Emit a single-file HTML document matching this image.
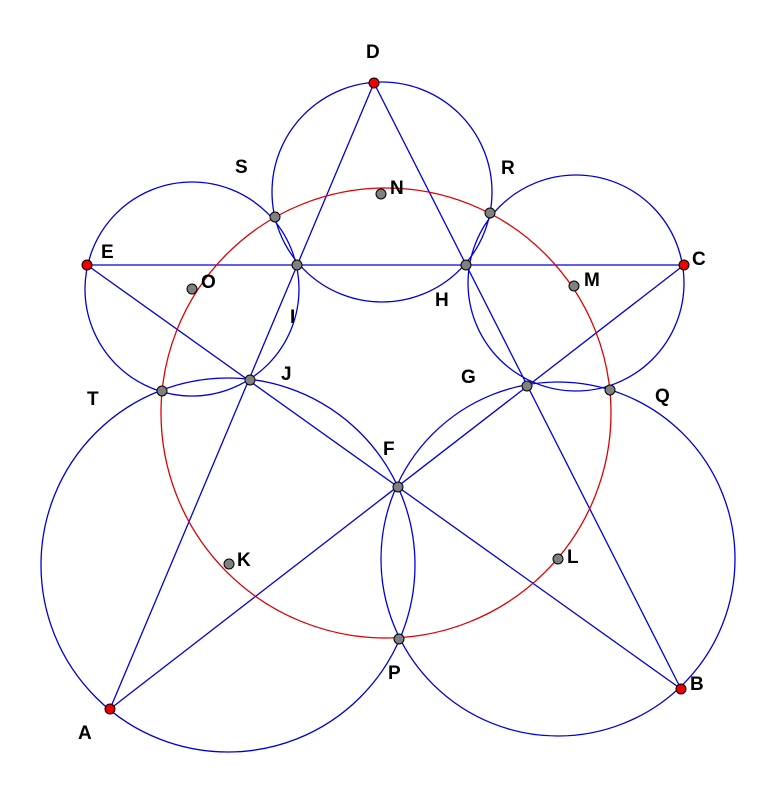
<!DOCTYPE html>
<html><head><meta charset="utf-8"><style>
html,body{margin:0;padding:0;background:#fff;}
svg text{font-family:"Liberation Sans",sans-serif;font-weight:bold;font-size:19px;fill:#000;}
</style></head><body>
<svg width="775" height="795" viewBox="0 0 775 795" xmlns="http://www.w3.org/2000/svg">
<g fill="none" stroke="#0000dd" stroke-width="1.3">
<circle cx="382" cy="192" r="110"/>
<circle cx="192" cy="289" r="107"/>
<circle cx="576" cy="283" r="108"/>
<circle cx="228" cy="565" r="187"/>
<circle cx="558" cy="559" r="177"/>
<line x1="110" y1="709" x2="374" y2="83"/>
<line x1="374" y1="83" x2="681" y2="689"/>
<line x1="681" y1="689" x2="87" y2="265"/>
<line x1="87" y1="265" x2="684" y2="265"/>
<line x1="684" y1="265" x2="110" y2="709"/>
</g>
<circle cx="386" cy="413" r="225" fill="none" stroke="#e00000" stroke-width="1.3"/>
<g stroke="#000" stroke-width="1">
<g fill="#ee0000">
<circle cx="374" cy="83" r="5"/><circle cx="87" cy="265" r="5"/><circle cx="684" cy="265" r="5"/><circle cx="110" cy="709" r="5"/><circle cx="681" cy="689" r="5"/>
</g>
<g fill="#808080">
<circle cx="297" cy="265" r="5"/><circle cx="466" cy="265" r="5"/><circle cx="250" cy="380" r="5"/><circle cx="527" cy="386" r="5"/><circle cx="398" cy="487" r="5"/>
<circle cx="275" cy="217" r="5"/><circle cx="490" cy="213" r="5"/><circle cx="162" cy="391" r="5"/><circle cx="610" cy="390" r="5"/><circle cx="399" cy="639" r="5"/>
<circle cx="381" cy="194" r="5"/><circle cx="192" cy="289" r="5"/><circle cx="574" cy="286" r="5"/><circle cx="229" cy="564" r="5"/><circle cx="558" cy="559" r="5"/>
</g>
</g>
<text x="366" y="58">D</text>
<text x="101" y="258">E</text>
<text x="692" y="265">C</text>
<text x="78" y="739">A</text>
<text x="690" y="690">B</text>
<text x="235" y="173">S</text>
<text x="501" y="174">R</text>
<text x="390" y="194">N</text>
<text x="201" y="288">O</text>
<text x="584" y="286">M</text>
<text x="290" y="323">I</text>
<text x="435" y="306">H</text>
<text x="281" y="380">J</text>
<text x="461" y="383">G</text>
<text x="87" y="405">T</text>
<text x="655" y="402">Q</text>
<text x="383" y="455">F</text>
<text x="237" y="566">K</text>
<text x="567" y="563">L</text>
<text x="388" y="679">P</text>
</svg>
</body></html>
